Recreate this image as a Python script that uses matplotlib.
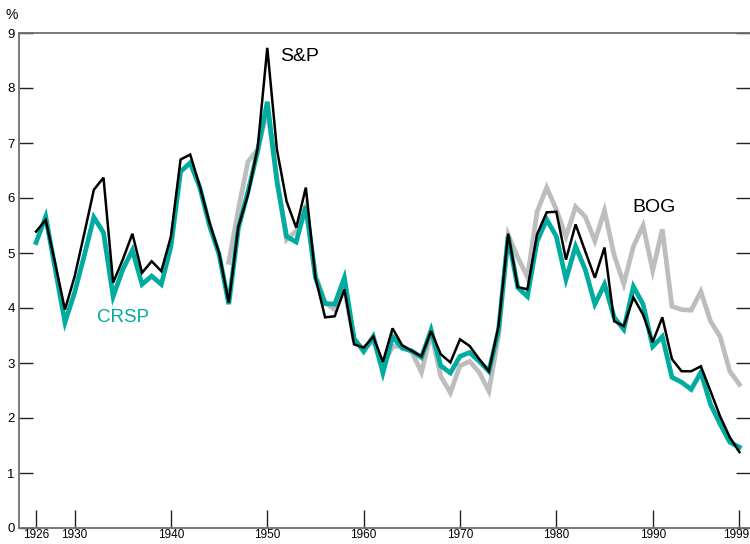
import matplotlib
matplotlib.use("Agg")
import matplotlib.pyplot as plt
import matplotlib.transforms as mtransforms
from matplotlib import font_manager

years = list(range(1926, 2000))

sp = [5.39, 5.6, 4.8, 3.97, 4.57, 5.35, 6.15, 6.37, 4.46, 4.88,
      5.35, 4.64, 4.85, 4.67, 5.3, 6.7, 6.79, 6.21, 5.55, 5.0,
      4.1, 5.48, 6.06, 6.91, 8.73, 6.88, 5.94, 5.46, 6.19, 4.55,
      3.83, 3.85, 4.34, 3.34, 3.28, 3.48, 3.02, 3.63, 3.32, 3.22,
      3.12, 3.58, 3.16, 3.01, 3.43, 3.31, 3.07, 2.85, 3.67, 5.35,
      4.38, 4.34, 5.34, 5.74, 5.75, 4.88, 5.52, 5.03, 4.55, 5.1,
      3.76, 3.67, 4.19, 3.88, 3.38, 3.83, 3.07, 2.85, 2.85, 2.94,
      2.49, 2.03, 1.65, 1.38]

crsp = [5.19, 5.66, 4.7, 3.74, 4.28, 4.95, 5.65, 5.37, 4.21, 4.7,
        5.05, 4.43, 4.58, 4.43, 5.12, 6.48, 6.64, 6.19, 5.5, 4.97,
        4.07, 5.45, 6.12, 6.85, 7.75, 6.3, 5.3, 5.2, 5.85, 4.55,
        4.08, 4.07, 4.55, 3.45, 3.21, 3.48, 2.82, 3.48, 3.27, 3.22,
        3.1, 3.6, 2.95, 2.82, 3.12, 3.19, 3.03, 2.85, 3.6, 5.3,
        4.37, 4.21, 5.21, 5.61, 5.3, 4.52, 5.12, 4.7, 4.07, 4.43,
        3.83, 3.61, 4.39, 4.07, 3.3, 3.48, 2.74, 2.65, 2.52, 2.83,
        2.25, 1.89, 1.56, 1.47]

bog_years = list(range(1946, 2000))
bog = [4.83, 5.8, 6.66, 6.88, 7.6, 6.36, 5.24, 5.4, 5.84, 4.6,
       4.1, 3.97, 4.35, 3.42, 3.25, 3.4, 2.95, 3.3, 3.31, 3.2,
       2.83, 3.55, 2.76, 2.46, 2.95, 3.03, 2.83, 2.49, 3.5, 5.33,
       4.92, 4.56, 5.75, 6.19, 5.79, 5.3, 5.84, 5.66, 5.22, 5.77,
       4.96, 4.44, 5.12, 5.5, 4.68, 5.43, 4.03, 3.97, 3.96, 4.3,
       3.76, 3.48, 2.85, 2.61]

xticks = [1926, 1930, 1940, 1950, 1960, 1970, 1980, 1990, 1999]
yticks = list(range(0, 10))

names = {f.name for f in font_manager.fontManager.ttflist}
fam = 'Liberation Sans Narrow' if 'Liberation Sans Narrow' in names else 'Liberation Sans'
plt.rcParams['font.family'] = [fam, 'DejaVu Sans']

TEAL = '#00aba0'
GRAY = '#bdbdbd'
SPINE = '#6e6e6e'

fig = plt.figure(figsize=(7.5, 5.44), dpi=100)
ax = fig.add_axes([19/750, 16/544, 1 - 19/750, (528-33)/544])

ax.plot(bog_years, bog, color=GRAY, lw=3.4, solid_joinstyle='miter', zorder=2)
ax.plot(years, crsp, color=TEAL, lw=3.4, solid_joinstyle='miter', zorder=3)
ax.plot(years, sp, color='black', lw=1.8, solid_joinstyle='miter', zorder=4)

ax.set_xlim(1924.23, 2000.1)
ax.set_ylim(0, 9)
ax.set_xticks(xticks)
ax.set_yticks(yticks)
ax.tick_params(axis='x', direction='in', length=13, width=1, color='#222222',
               labelsize=8.5, pad=1)
ax.tick_params(axis='y', direction='in', length=10, width=1, color='#222222',
               labelsize=9.5, pad=3, right=True)

# keep the last year label inside the canvas
last = ax.get_xticklabels()[-1]
last.set_transform(last.get_transform() +
                   mtransforms.ScaledTranslation(-3/100, 0, fig.dpi_scale_trans))

for s in ['left', 'bottom', 'top']:
    ax.spines[s].set_color(SPINE)
    ax.spines[s].set_linewidth(1.3)
ax.spines['right'].set_visible(False)

ax.text(1951.3, 8.57, 'S&P', fontsize=14, color='black', ha='left', va='center')
ax.text(1987.9, 5.83, 'BOG', fontsize=14, color='black', ha='left', va='center')
ax.text(1932.3, 3.83, 'CRSP', fontsize=13.5, color=TEAL, ha='left', va='center')

fig.text(6/750, 1 - 15/544, '%', fontsize=10, ha='left', va='center')

fig.savefig('out.png', dpi=100)
